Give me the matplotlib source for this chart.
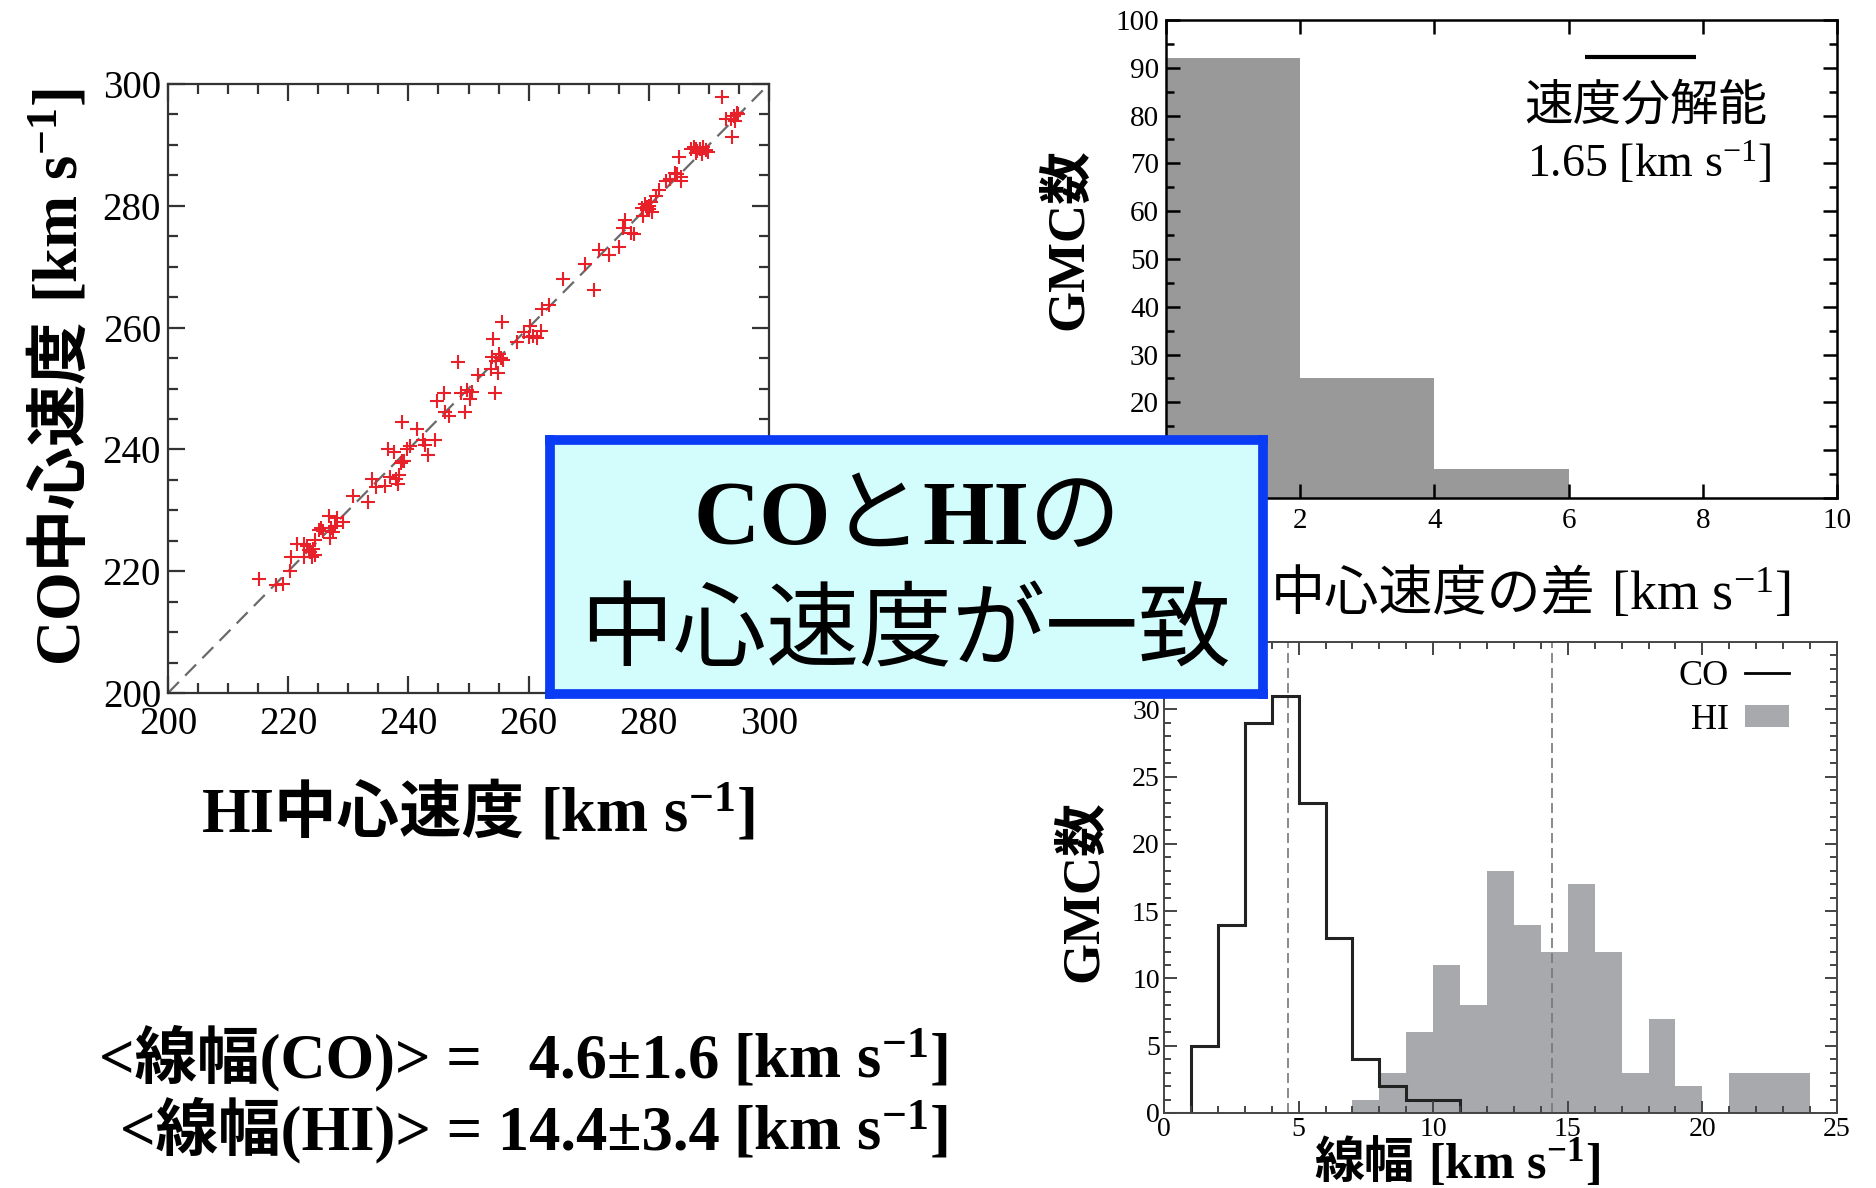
import matplotlib
matplotlib.use("Agg")
import matplotlib.pyplot as plt
from matplotlib.lines import Line2D
from matplotlib.patches import Patch
from matplotlib.ticker import MultipleLocator
from matplotlib.transforms import IdentityTransform

plt.rcParams['font.family'] = ['Liberation Serif', 'Noto Sans CJK JP']
plt.rcParams['mathtext.fontset'] = 'custom'
plt.rcParams['mathtext.rm'] = 'Liberation Serif'
plt.rcParams['mathtext.bf'] = 'Liberation Serif:bold'
plt.rcParams['mathtext.it'] = 'Liberation Serif:italic'

# --- central velocities of GMCs [km/s] ---
hi_vel = [215.1, 218.0, 219.2, 220.3, 220.5, 221.5, 222.7, 223.1, 223.7, 224.1,
          224.4, 224.5, 223.4, 225.1, 225.8, 226.8, 226.9, 227.5, 227.8, 228.1,
          229.2, 230.8, 233.2, 233.9, 234.6, 236.1, 236.9, 236.6, 237.6, 238.3,
          238.4, 238.8, 239.0, 239.3, 239.8, 240.3, 241.4, 242.4, 242.7, 243.3,
          244.4, 244.7, 246.0, 246.1, 246.8, 248.3, 248.8, 249.5, 249.8, 250.2,
          250.6, 251.5, 253.8, 254.1, 254.4, 254.6, 254.9, 255.1, 255.6, 255.7,
          258.0, 259.3, 260.0, 260.3, 260.7, 261.4, 262.0, 262.2, 263.4, 265.8,
          269.4, 270.8, 271.7, 273.4, 275.1, 275.7, 276.1, 277.0, 277.5, 278.8,
          279.1, 279.3, 279.7, 280.0, 280.3, 280.5, 281.2, 281.7, 282.9, 283.6,
          284.3, 284.7, 285.1, 285.4, 285.4, 287.0, 287.5, 287.8, 288.1, 288.5,
          288.8, 289.0, 289.5, 289.8, 292.2, 292.9, 293.6, 293.9, 294.2, 294.6,
          294.4, 294.9, 222.6, 223.9, 225.4, 227.1, 238.0, 239.0, 253.9, 255.4,
          280.0, 287.8, 279.7]
co_vel = [218.7, 217.7, 217.9, 220.1, 222.3, 224.4, 222.4, 224.1, 223.1, 223.7,
          225.1, 222.7, 223.4, 226.8, 226.6, 229.1, 225.4, 226.4, 227.4, 228.8,
          228.1, 232.4, 231.4, 235.1, 233.8, 234.0, 235.5, 240.1, 239.5, 234.4,
          235.8, 237.8, 244.5, 238.1, 240.1, 240.5, 243.3, 241.5, 240.8, 239.1,
          241.5, 248.0, 249.3, 246.2, 245.5, 254.4, 249.3, 246.2, 249.8, 248.2,
          249.5, 252.2, 253.2, 258.1, 249.3, 254.5, 252.6, 255.7, 261.0, 254.6,
          257.7, 259.2, 258.4, 260.2, 258.7, 258.3, 259.5, 263.0, 263.7, 267.9,
          270.4, 266.2, 272.7, 272.0, 273.2, 276.3, 277.6, 275.6, 275.4, 279.6,
          278.3, 280.3, 279.3, 279.9, 280.6, 278.9, 281.6, 282.6, 284.1, 284.4,
          285.4, 285.2, 288.0, 284.1, 284.7, 289.3, 289.6, 289.3, 289.0, 289.4,
          288.5, 289.6, 289.2, 288.8, 297.8, 294.2, 294.3, 291.3, 294.8, 295.3,
          294.0, 295.1, 224.4, 222.4, 227.1, 227.1, 235.1, 238.1, 255.2, 255.0,
          279.4, 288.6, 279.8]

# --- |V_CO - V_HI| histogram ---
dv_edges = [0, 2, 4, 6]
dv_counts = [92, 25, 6]
vel_resolution = 1.65
res_bar_start = 6.25

# --- line width histograms (1 km/s bins) ---
co_edges = list(range(0, 15))
co_counts = [0, 5, 14, 29, 31, 23, 13, 4, 2, 1, 1, 0, 0, 0]
hi_edges = list(range(7, 25))
hi_counts = [1, 3, 6, 11, 8, 18, 14, 12, 17, 12, 3, 7, 2, 0, 3, 3, 3]
co_mean, co_std = 4.6, 1.6
hi_mean, hi_std = 14.4, 3.4

UNIT = r"[km s$^{-1}$]"
UNIT_BF = r"[km s$^{\mathbf{-1}}$]"
JP = ['Noto Sans CJK JP']

fig = plt.figure(figsize=(18.76, 11.88), dpi=100)
fig.patch.set_facecolor('white')
W, H = fig.bbox.width, fig.bbox.height
renderer = fig.canvas.get_renderer()


def rich_text(pieces, px, py, rotation=0, ha='center', **common):
    """Lay out text pieces one after another along the baseline.
    px, py are pixel positions measured from the top-left corner;
    each piece is (string, extra_props, gap_after_px)."""
    X, Y = px, H - py
    arts, sizes, gaps = [], [], []
    for s, extra, gap in pieces:
        kw = dict(common)
        kw.update(extra)
        t = fig.text(X, Y, s, transform=IdentityTransform(), rotation=rotation,
                     rotation_mode='anchor', ha='left', va='baseline', **kw)
        bb = t.get_window_extent(renderer)
        arts.append(t)
        sizes.append(bb.height if rotation else bb.width)
        gaps.append(gap)
    total = sum(sizes) + sum(gaps[:-1])
    off = {'center': -total / 2, 'right': -total, 'left': 0}[ha]
    for t, s, g in zip(arts, sizes, gaps):
        t.set_position((X, Y + off) if rotation else (X + off, Y))
        off += s + g
    return arts


def style_axes(ax, lw=1.6, maj=10, mnr=5, color='black'):
    for s in ax.spines.values():
        s.set_linewidth(lw)
        s.set_color(color)
    ax.tick_params(which='both', direction='in', top=True, right=True,
                   width=lw, color=color)
    ax.tick_params(which='major', length=maj)
    ax.tick_params(which='minor', length=mnr)


# ---------------- scatter: CO vs HI central velocity ----------------
ax1 = fig.add_axes([168 / W, 1 - 693 / H, 601 / W, 609 / H])
ax1.plot([200, 300], [200, 300], ls=(0, (7, 4)), color='#6a6a6a', lw=1.6, zorder=1)
ax1.plot(hi_vel, co_vel, ls='none', marker='+', ms=10, mew=1.5, color='#e8202a', zorder=2)
ax1.set_xlim(200, 300)
ax1.set_ylim(200, 300)
ax1.xaxis.set_major_locator(MultipleLocator(20))
ax1.yaxis.set_major_locator(MultipleLocator(20))
ax1.xaxis.set_minor_locator(MultipleLocator(5))
ax1.yaxis.set_minor_locator(MultipleLocator(5))
style_axes(ax1, lw=1.6, maj=12, mnr=7, color='#333333')
ax1.tick_params(axis='x', labelsize=28, pad=9)
ax1.tick_params(axis='y', labelsize=28, pad=5)
rich_text([("HI中心速度", {}, 15), (UNIT_BF, {}, 0)], 478, 832,
          fontsize=45, fontweight='bold')
rich_text([("CO中心速度", {}, 15), (UNIT_BF, {}, 0)], 77, 375, rotation=90,
          fontsize=45, fontweight='bold')

# ---------------- histogram: central velocity difference ----------------
ax2 = fig.add_axes([1166 / W, 1 - 498 / H, 671 / W, 478 / H])
ax2.bar(dv_edges[:-1], dv_counts, width=2, align='edge', color='#999999', lw=0)
ax2.set_xlim(0, 10)
ax2.set_ylim(0, 100)
ax2.xaxis.set_major_locator(MultipleLocator(2))
ax2.yaxis.set_major_locator(MultipleLocator(10))
ax2.yaxis.set_minor_locator(MultipleLocator(5))
style_axes(ax2, lw=1.8, maj=10, mnr=6)
ax2.tick_params(labelsize=21)
ax2.tick_params(axis='x', pad=7)
ax2.tick_params(axis='y', pad=5)
ax2.plot([res_bar_start, res_bar_start + vel_resolution], [92.3, 92.3],
         color='black', lw=3, solid_capstyle='butt')
ax2.text(7.15, 82, "速度分解能", fontsize=35, ha='center', va='center', family=JP)
ax2.text(7.2, 70, "%.2f " % vel_resolution + UNIT, fontsize=33,
         ha='center', va='center')
fig.text(1068 / W, 1 - 239 / H, "GMC数", fontsize=38, fontweight='bold',
         ha='center', va='center', rotation=90)
rich_text([("中心速度の差", {'family': JP}, 15), (UNIT, {}, 0)], 1271, 610,
          ha='left', fontsize=39)

# ---------------- histogram: line widths ----------------
ax3 = fig.add_axes([1164 / W, 1 - 1113 / H, 673 / W, 471 / H])
ax3.bar(hi_edges[:-1], hi_counts, width=1, align='edge', color='#a8a9ad', lw=0)
ax3.stairs(co_counts, co_edges, color='#222222', lw=2.2, baseline=None)
ax3.axvline(co_mean, color='#777777', ls=(0, (6, 3)), lw=1.2)
ax3.axvline(hi_mean, color='#777777', ls=(0, (6, 3)), lw=1.2)
ax3.set_xlim(0, 25)
ax3.set_ylim(0, 35)
ax3.xaxis.set_major_locator(MultipleLocator(5))
ax3.xaxis.set_minor_locator(MultipleLocator(1))
ax3.yaxis.set_minor_locator(MultipleLocator(1))
ax3.set_yticks([0, 5, 10, 15, 20, 25, 30])
style_axes(ax3, lw=1.4, maj=9, mnr=5, color='#444444')
ax3.tick_params(labelsize=20)
ax3.tick_params(axis='x', pad=3)
ax3.tick_params(axis='y', pad=3)
handles = [Line2D([0], [0], color='black', lw=2),
           Patch(facecolor='#a8a9ad', edgecolor='none')]
ax3.legend(handles, ['CO', 'HI'], loc='upper right', bbox_to_anchor=(0.928, 0.962),
           frameon=False, markerfirst=False, fontsize=26, handlelength=1.2,
           handleheight=0.55, handletextpad=0.45, labelspacing=0.3,
           borderpad=0, borderaxespad=0)
fig.text(1083 / W, 1 - 891 / H, "GMC数", fontsize=38, fontweight='bold',
         ha='center', va='center', rotation=90)
rich_text([("線幅", {'family': JP}, 13), (UNIT_BF, {}, 0)], 1457, 1178,
          fontsize=36, fontweight='bold')

# ---------------- mean line widths ----------------
rich_text([("<線幅(CO)> =   %.1f±%.1f" % (co_mean, co_std), {}, 14), (UNIT_BF, {}, 0)],
          948, 1077, ha='right', fontsize=45, fontweight='bold')
rich_text([("<線幅(HI)> = %.1f±%.1f" % (hi_mean, hi_std), {}, 14), (UNIT_BF, {}, 0)],
          948, 1149, ha='right', fontsize=45, fontweight='bold')

# ---------------- highlighted message box ----------------
axb = fig.add_axes([550 / W, 1 - 694 / H, 713 / W, 254 / H])
axb.set_facecolor('#d3fdfd')
axb.set_xticks([])
axb.set_yticks([])
for s in axb.spines.values():
    s.set_color('#0a3cf5')
    s.set_linewidth(7)
box_title = rich_text([("CO", {'fontweight': 'bold'}, 0), ("と", {'family': JP}, 0),
                       ("HI", {'fontweight': 'bold'}, 0), ("の", {'family': JP}, 0)],
                      907, 544, fontsize=66)
box_body = fig.text(906 / W, 1 - 633 / H, "中心速度が一致", fontsize=67,
                    ha='center', va='center', family=JP)
for t in box_title + [box_body]:
    t.set_zorder(10)
axb.set_zorder(5)

fig.savefig("out.png", dpi=100, facecolor='white')
